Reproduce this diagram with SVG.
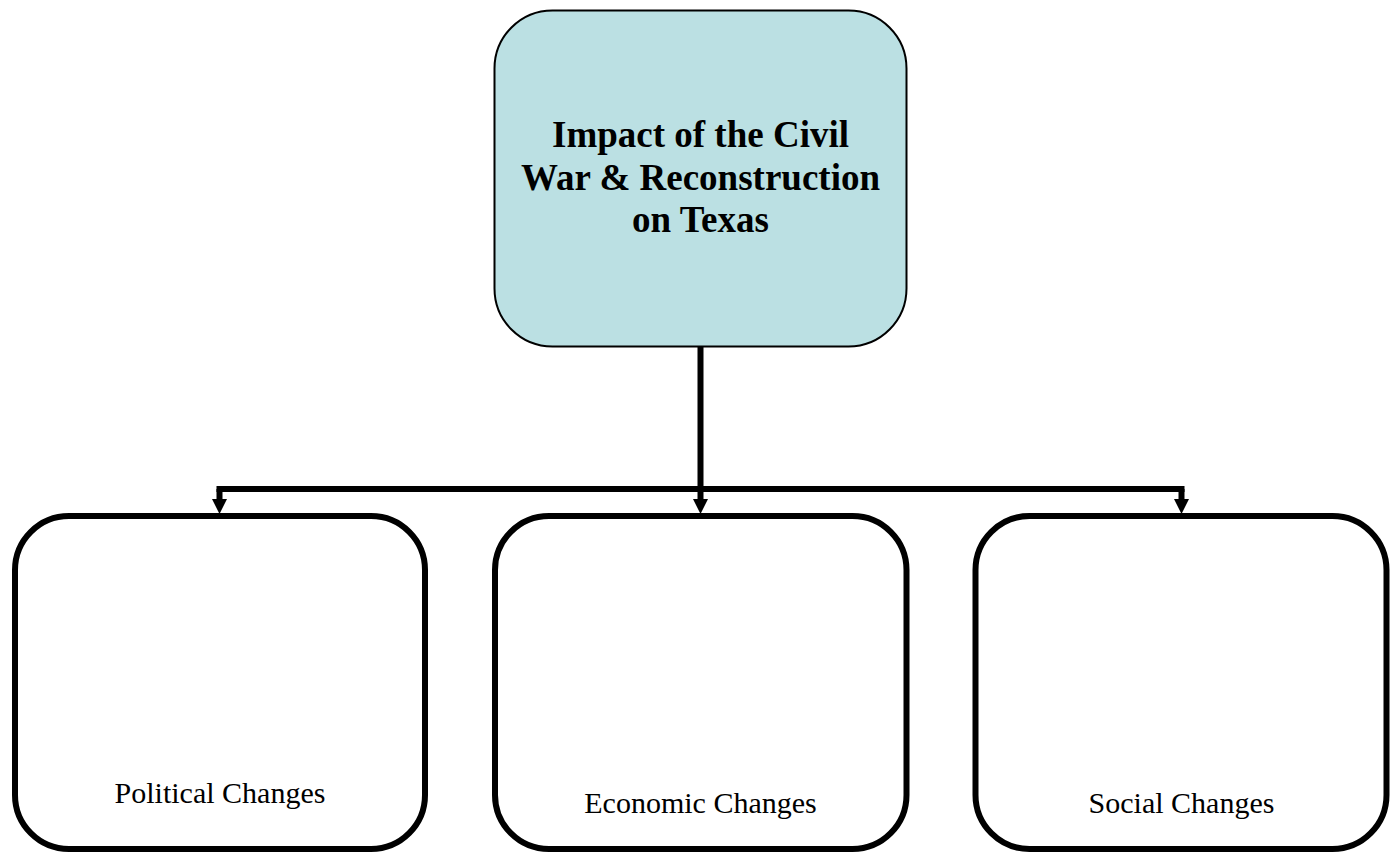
<svg xmlns="http://www.w3.org/2000/svg" width="1391" height="852" viewBox="0 0 1391 852">
  <style>
    .top { fill: #BBE0E3; stroke: #000; stroke-width: 2; }
    .box { fill: #fff; stroke: #000; stroke-width: 6; }
    .title { font-family: "Liberation Serif", "Times New Roman", serif; font-weight: bold; font-size: 37px; fill: #000; text-anchor: middle; }
    .label { font-family: "Liberation Serif", "Times New Roman", serif; font-size: 30px; fill: #000; text-anchor: middle; }
    .conn { fill: none; stroke: #000; stroke-width: 6; }
  </style>
  <defs>
    <marker id="arrow" markerUnits="userSpaceOnUse" markerWidth="15" markerHeight="15" viewBox="0 -7.5 15 15" refX="0" refY="0" orient="auto" overflow="visible">
      <path d="M0,-7.5 L15,0 L0,7.5 z" fill="#000"/>
    </marker>
  </defs>
  <rect width="1391" height="852" fill="#fff"/>

  <g id="connectors">
    <path class="conn" d="M700.5,347 V489"/>
    <path class="conn" d="M219.5,489 H1181.5" stroke-linecap="square"/>
    <path class="conn" d="M219.5,489 V499" marker-end="url(#arrow)"/>
    <path class="conn" d="M700.5,489 V499" marker-end="url(#arrow)"/>
    <path class="conn" d="M1181.5,489 V499" marker-end="url(#arrow)"/>
  </g>

  <g id="node-root">
    <rect class="top" x="494.5" y="10.5" width="412" height="336" rx="58" ry="58"/>
    <text class="title" x="700.5" y="147">Impact of the Civil</text>
    <text class="title" x="700.5" y="190">War &amp; Reconstruction</text>
    <text class="title" x="700.5" y="232">on Texas</text>
  </g>

  <g id="node-political">
    <rect class="box" x="15" y="516" width="410" height="333" rx="54" ry="54"/>
    <text class="label" x="220" y="803">Political Changes</text>
  </g>

  <g id="node-economic">
    <rect class="box" x="495" y="516" width="411.5" height="333" rx="54" ry="54"/>
    <text class="label" x="700.5" y="813">Economic Changes</text>
  </g>

  <g id="node-social">
    <rect class="box" x="975.5" y="516" width="411" height="333" rx="54" ry="54"/>
    <text class="label" x="1181.5" y="813">Social Changes</text>
  </g>
</svg>
